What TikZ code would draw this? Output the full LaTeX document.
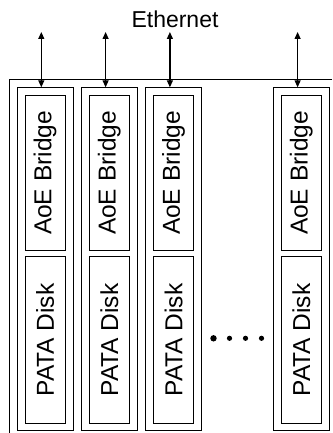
\documentclass[tikz,border=0pt]{standalone}
\usepackage{fontspec}
\setmainfont{Liberation Sans}
\usetikzlibrary{arrows.meta}

\begin{document}
\begin{tikzpicture}[x=1pt,y=-1pt,
  box/.style={draw, line width=1pt, inner sep=0pt, outer sep=0pt},
  unitbox/.style={box, minimum width=56pt, minimum height=342.7pt, anchor=north west},
  labelfont/.style={font=\fontsize{24.5}{24.5}\selectfont},
  bridgebox/.style={box, labelfont, rotate=90, minimum width=154pt, minimum height=40pt},
  diskbox/.style={box, labelfont, rotate=90, minimum width=167.5pt, minimum height=40pt},
  link/.style={line width=1.2pt, {Triangle[length=7pt,width=6pt]}-{Triangle[length=7pt,width=6pt]}},
]
\useasboundingbox (0,0) rectangle (332,433);

% enclosing chassis, open towards the right and bottom
\draw[line width=1pt] (332,80) -- (9.5,80) -- (9.5,433);

% network label
\node[font=\fontsize{23}{23}\selectfont, anchor=base] (eth) at (175,27.7) {Ethernet};

% storage units: bridge on top of disk
\foreach \i/\x in {1/17, 2/81.3, 3/145.6, 4/273.3} {
  \node[unitbox] (c\i) at (\x,87.3) {};
  \node[bridgebox] (b\i) at (\x+28,173) {AoE Bridge};
  \node[diskbox] (d\i) at (\x+28,340) {PATA Disk};
  \coordinate (e\i) at (\x+24.3,32);
  \draw[link] (e\i) -- (e\i |- c\i.north);
}

% further units omitted
\fill (213.5,338.3) circle (3.2pt);
\fill (229.5,338.3) circle (2.6pt);
\fill (245.5,338.3) circle (2.6pt);
\fill (261.5,338.3) circle (2.6pt);
\end{tikzpicture}
\end{document}
